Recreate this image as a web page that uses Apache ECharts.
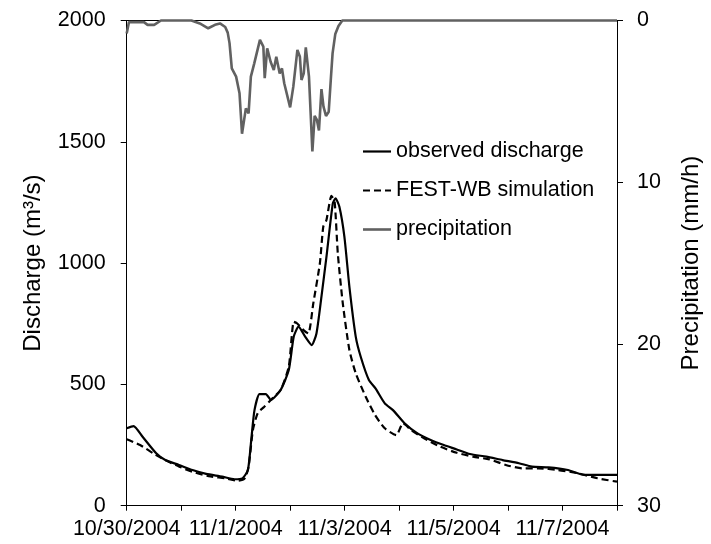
<!DOCTYPE html>
<html>
<head>
<meta charset="utf-8">
<script src="https://cdn.jsdelivr.net/npm/echarts@6/dist/echarts.min.js"></script>
<style>
html,body{margin:0;padding:0;background:#fff;}
#chart{width:711px;height:544px;}
</style>
</head>
<body>
<div id="chart"></div>
<script>
// Hours since 10/30/2004 00:00
var xTickLabels = ['10/30/2004', '11/1/2004', '11/3/2004', '11/5/2004', '11/7/2004'];

var obsHours = [0, 3, 7, 13, 17, 23, 29, 35, 42, 47.5, 51, 53.4, 55, 56.3, 58.5, 61.3, 63.5, 67.8, 71.4, 73.6, 75.7, 78.6, 81.5, 83.6, 85.8, 88, 90.8, 92, 93.7, 95.9, 98.1, 100.9, 103.1, 106.7, 109.6, 113.7, 117.3, 122.4, 128.1, 133.9, 139.7, 145.4, 151.2, 158.4, 165.6, 172.8, 178.5, 185.8, 194.4, 201.6, 210.2, 216];
var obsQ = [319, 328, 284, 216, 188, 168, 147, 131, 120, 109, 113, 147, 284, 394, 460, 460, 436, 477, 559, 697, 738, 697, 662, 710, 862, 1026, 1246, 1267, 1232, 1109, 903, 697, 614, 518, 484, 422, 394, 340, 298, 271, 250, 232, 213, 202, 188, 175, 161, 158, 147, 127, 127, 127];

var simHours = [0, 5.9, 11.7, 17.4, 23.2, 28.9, 36.1, 43.3, 49.1, 52, 53.7, 55.6, 57.7, 60.6, 63.5, 67.8, 71.4, 73.6, 75, 77.9, 80, 82.2, 85.1, 86.6, 88, 90.2, 91.6, 93, 95.2, 98.1, 100.9, 105.3, 109.4, 113.7, 118.8, 121.7, 125.3, 131, 138.2, 145.4, 152.6, 159.8, 167, 174.2, 181.4, 190.1, 198.7, 207.4, 216];
var simQ = [274, 250, 216, 186, 161, 140, 122, 113, 103, 113, 161, 312, 381, 408, 436, 477, 573, 758, 752, 724, 710, 834, 999, 1150, 1178, 1277, 1253, 1040, 834, 642, 546, 449, 374, 319, 291, 340, 312, 278, 243, 218, 202, 191, 168, 154, 154, 147, 134, 113, 99];

var precHours = [0, 1, 4, 7.6, 9.2, 12.1, 15.1, 28.5, 32.2, 35.9, 38.9, 41.1, 43.4, 44.5, 45.3, 46.3, 48.2, 49.7, 50.8, 52.5, 53.7, 54.7, 56.2, 58.7, 60.2, 60.8, 61.9, 63.4, 64.8, 65.9, 67.4, 68.4, 69.4, 72, 73.4, 75.2, 76.3, 77, 78, 78.9, 80.3, 81.8, 82.8, 83.8, 84.7, 85.8, 86.7, 87.8, 89, 90, 90.7, 91.9, 93.3, 95, 216];
var precP = [0.8, 0.1, 0.1, 0.1, 0.27, 0.27, 0, 0, 0.18, 0.48, 0.27, 0.18, 0.4, 0.75, 1.4, 2.96, 3.47, 4.5, 7.0, 5.43, 5.74, 3.47, 2.65, 1.2, 1.62, 3.57, 1.72, 2.55, 3.06, 2.24, 3.27, 2.96, 3.88, 5.37, 4.09, 1.82, 2.24, 3.68, 3.27, 1.66, 3.47, 8.1, 5.9, 6.15, 6.8, 4.24, 5.33, 5.9, 5.64, 3.47, 2.03, 0.83, 0.34, 0, 0];

function pairs(xs, ys) { return xs.map(function (x, i) { return [x, ys[i]]; }); }

var FONT = 'Liberation Sans, Arial, sans-serif';
var SOLID_ICON = 'path://M0,0h28v2.2h-28z';
var DASH_ICON = 'path://M0,0h7v2.2h-7z M11,0h7v2.2h-7z M22,0h6v2.2h-6z';
var PREC_ICON = 'path://M0,0h28v2.6h-28z';

var chart = echarts.init(document.getElementById('chart'), null, {renderer: 'canvas'});
chart.setOption({
  animation: false,
  backgroundColor: '#ffffff',
  textStyle: {fontFamily: FONT, color: '#000'},
  grid: {left: 126.7, right: 84.3, top: 20.5, bottom: 38.3, containLabel: false},
  legend: {
    orient: 'vertical',
    left: 358, top: 135.5,
    itemWidth: 28, itemHeight: 14, itemGap: 17,
    symbolKeepAspect: true,
    textStyle: {fontFamily: FONT, fontSize: 21.5, color: '#000'},
    data: [
      {name: 'observed discharge', icon: SOLID_ICON},
      {name: 'FEST-WB simulation', icon: DASH_ICON},
      {name: 'precipitation', icon: PREC_ICON}
    ]
  },
  xAxis: [{
    type: 'value', min: 0, max: 216, interval: 24, position: 'bottom',
    axisLine: {show: true, onZero: false, lineStyle: {color: '#000', width: 1}},
    axisTick: {show: true, length: 5, lineStyle: {color: '#000'}},
    splitLine: {show: false},
    axisLabel: {
      margin: 12, fontSize: 21.5, fontFamily: FONT, color: '#000',
      formatter: function (v) { return (v % 48 === 0) ? (xTickLabels[v / 48] || '') : ''; }
    }
  }, {
    type: 'value', min: 0, max: 216, position: 'top',
    axisLine: {show: true, onZero: false, lineStyle: {color: '#000', width: 1}},
    axisTick: {show: false}, axisLabel: {show: false}, splitLine: {show: false}
  }],
  yAxis: [{
    type: 'value', min: 0, max: 2000, interval: 500, position: 'left',
    name: 'Discharge (m³/s)', nameLocation: 'middle', nameGap: 81,
    nameTextStyle: {fontSize: 24, fontFamily: FONT, color: '#000'},
    axisLine: {show: true, onZero: false, lineStyle: {color: '#000', width: 1}},
    axisTick: {show: true, length: 6, lineStyle: {color: '#000'}},
    splitLine: {show: false},
    axisLabel: {margin: 21, fontSize: 21.5, fontFamily: FONT, color: '#000',
      formatter: function (v) { return String(v); }}
  }, {
    type: 'value', min: 0, max: 30, interval: 10, position: 'right', inverse: true,
    name: 'Precipitation (mm/h)', nameLocation: 'middle', nameGap: 62,
    nameTextStyle: {fontSize: 24, fontFamily: FONT, color: '#000'},
    axisLine: {show: true, onZero: false, lineStyle: {color: '#000', width: 1}},
    axisTick: {show: true, length: 6, lineStyle: {color: '#000'}},
    splitLine: {show: false},
    axisLabel: {margin: 20, fontSize: 21.5, fontFamily: FONT, color: '#000',
      formatter: function (v) { return String(v); }}
  }],
  series: [{
    name: 'observed discharge', type: 'line', xAxisIndex: 0, yAxisIndex: 0,
    data: pairs(obsHours, obsQ), symbol: 'none', smooth: 0.2,
    lineStyle: {color: '#000', width: 2.2}, itemStyle: {color: '#000'}
  }, {
    name: 'FEST-WB simulation', type: 'line', xAxisIndex: 0, yAxisIndex: 0,
    data: pairs(simHours, simQ), symbol: 'none', smooth: 0.2,
    lineStyle: {color: '#000', width: 2.2, type: [7, 4]}, itemStyle: {color: '#000'}
  }, {
    name: 'precipitation', type: 'line', xAxisIndex: 0, yAxisIndex: 1,
    data: pairs(precHours, precP), symbol: 'none', clip: false,
    lineStyle: {color: '#616161', width: 2.6}, itemStyle: {color: '#616161'}
  }]
});
</script>
</body>
</html>
